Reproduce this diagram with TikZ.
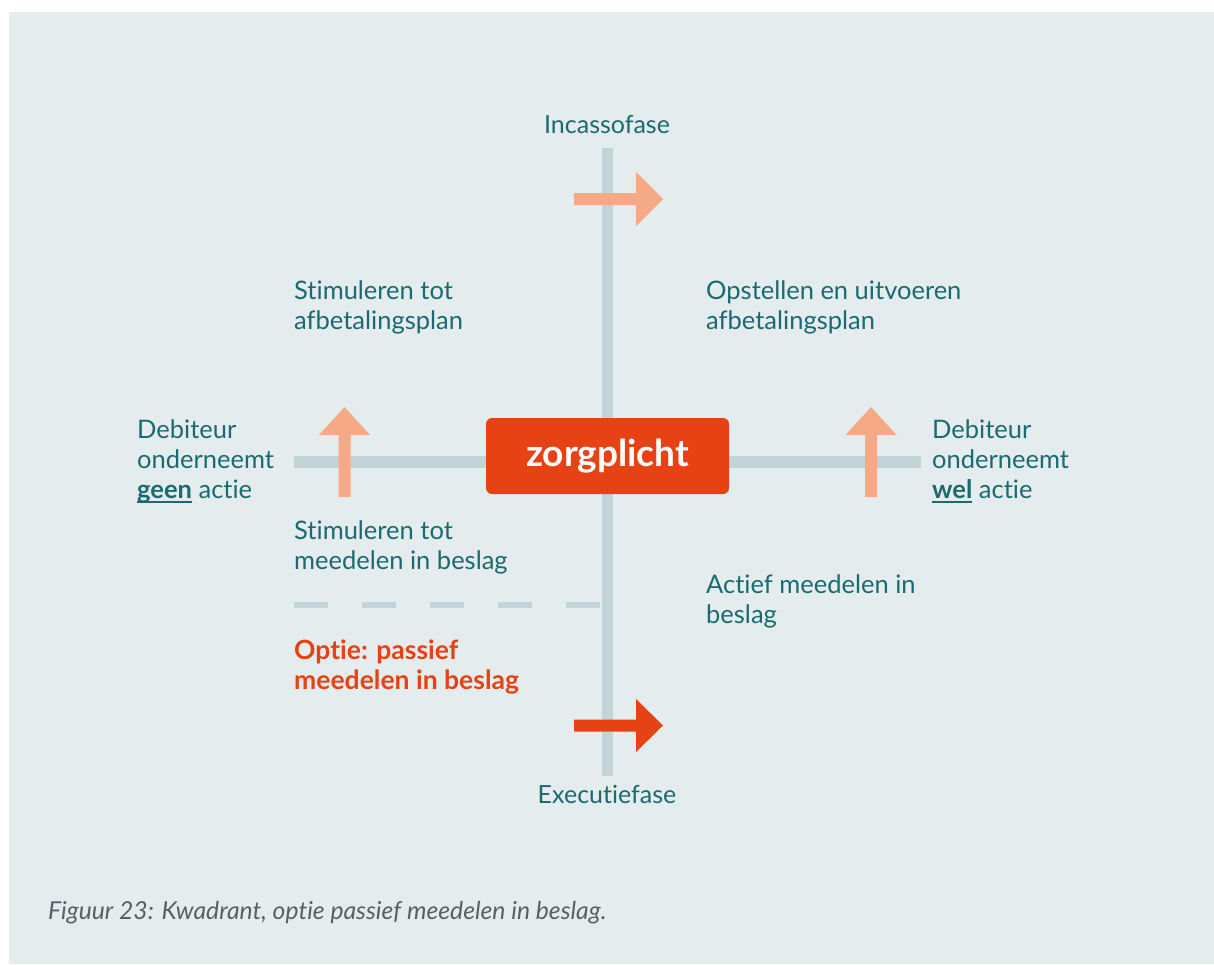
\documentclass[tikz,border=0pt]{standalone}
\usepackage{fontspec}
\setmainfont{Lato}[Ligatures=NoCommon]
\definecolor{panel}{HTML}{E4ECEE}
\definecolor{axis}{HTML}{C2D4D8}
\definecolor{tealtext}{HTML}{1A6B70}
\definecolor{flame}{HTML}{E64213}
\definecolor{salmon}{HTML}{F5A984}
\definecolor{capgray}{HTML}{5A5F63}
% bold word with a rule under the baseline
\newcommand\ulword[1]{\setbox0\hbox{\bfseries #1}\rlap{\rule[-5pt]{\wd0}{1.8pt}}\box0\relax}
\tikzset{
  lbl/.style={text=tealtext, font=\fontsize{25.5}{30}\selectfont, inner sep=0pt, align=left, anchor=base west},
  phase/.style={text=tealtext, font=\fontsize{25}{30}\selectfont, inner sep=0pt, anchor=base},
  optlbl/.style={lbl, text=flame, font=\bfseries\fontsize{26.5}{30}\selectfont},
  careduty/.style={fill=flame, rounded corners=6pt, minimum width=243pt, minimum height=76pt,
    text=white, font=\bfseries\fontsize{37}{40}\selectfont, inner sep=0pt,
    text height=24pt, text depth=4pt},
  axisline/.style={draw=axis, line width=11.5pt},
}
\begin{document}
\begin{tikzpicture}[x=1pt,y=-1pt]
\useasboundingbox (0,0) rectangle (1214,964);
\fill[white] (0,0) rectangle (1214,964);
\fill[panel] (9,12) rectangle (1214,964);

% axes
\coordinate (vtop) at (607.5,148);
\coordinate (vbot) at (607.5,776);
\coordinate (hl) at (294,462);
\coordinate (hr) at (921,462);
\draw[axisline] (vtop) -- (vbot);
\draw[axisline] (hl) -- (hr);

% dashed split in the lower-left quadrant
\coordinate (dl) at (294,605);
\coordinate (dr) at (602,605);
\draw[axis, line width=6pt, dash pattern=on 34pt off 34pt] (dl) -- (dr);

% phase arrows
\fill[salmon] (574,193) -- (636,193) -- (636,172) -- (663,199) -- (636,226) -- (636,205) -- (574,205) -- cycle;
\fill[flame] (574,719.5) -- (636,719.5) -- (636,699) -- (663,725.5) -- (636,752) -- (636,731.5) -- (574,731.5) -- cycle;

% action arrows
\fill[salmon] (338.5,497) -- (338.5,435) -- (319,435) -- (344.5,407) -- (370,435) -- (350.5,435) -- (350.5,497) -- cycle;
\fill[salmon] (865,497) -- (865,435) -- (845.5,435) -- (871,407) -- (896.5,435) -- (877,435) -- (877,497) -- cycle;

% central box
\node[careduty] (zorg) at (607.5,456) {zorgplicht};

% labels (anchored at the baseline of their last line)
\node[phase] (inc) at (607,133) {Incassofase};
\node[phase] (exe) at (607,803) {Executiefase};
\node[lbl] (q1) at (294,329) {Stimuleren tot\\afbetalingsplan};
\node[lbl] (q2) at (706,329) {Opstellen en uitvoeren\\afbetalingsplan};
\node[lbl] (q3) at (294,569) {Stimuleren tot\\meedelen in beslag};
\node[lbl] (q4) at (706,623) {Actief meedelen in\\beslag};
\node[optlbl] (opt) at (294,689) {Optie: passief\\meedelen in beslag};
\node[lbl] (geen) at (137,498) {Debiteur\\onderneemt\\\ulword{geen} actie};
\node[lbl] (wel) at (932,498) {Debiteur\\onderneemt\\\ulword{wel} actie};

% caption
\node[text=capgray, font=\itshape\fontsize{24.7}{28}\selectfont, inner sep=0pt, anchor=base west] (cap) at (48,919)
  {Figuur 23: Kwadrant, optie passief meedelen in beslag.};
\end{tikzpicture}
\end{document}
